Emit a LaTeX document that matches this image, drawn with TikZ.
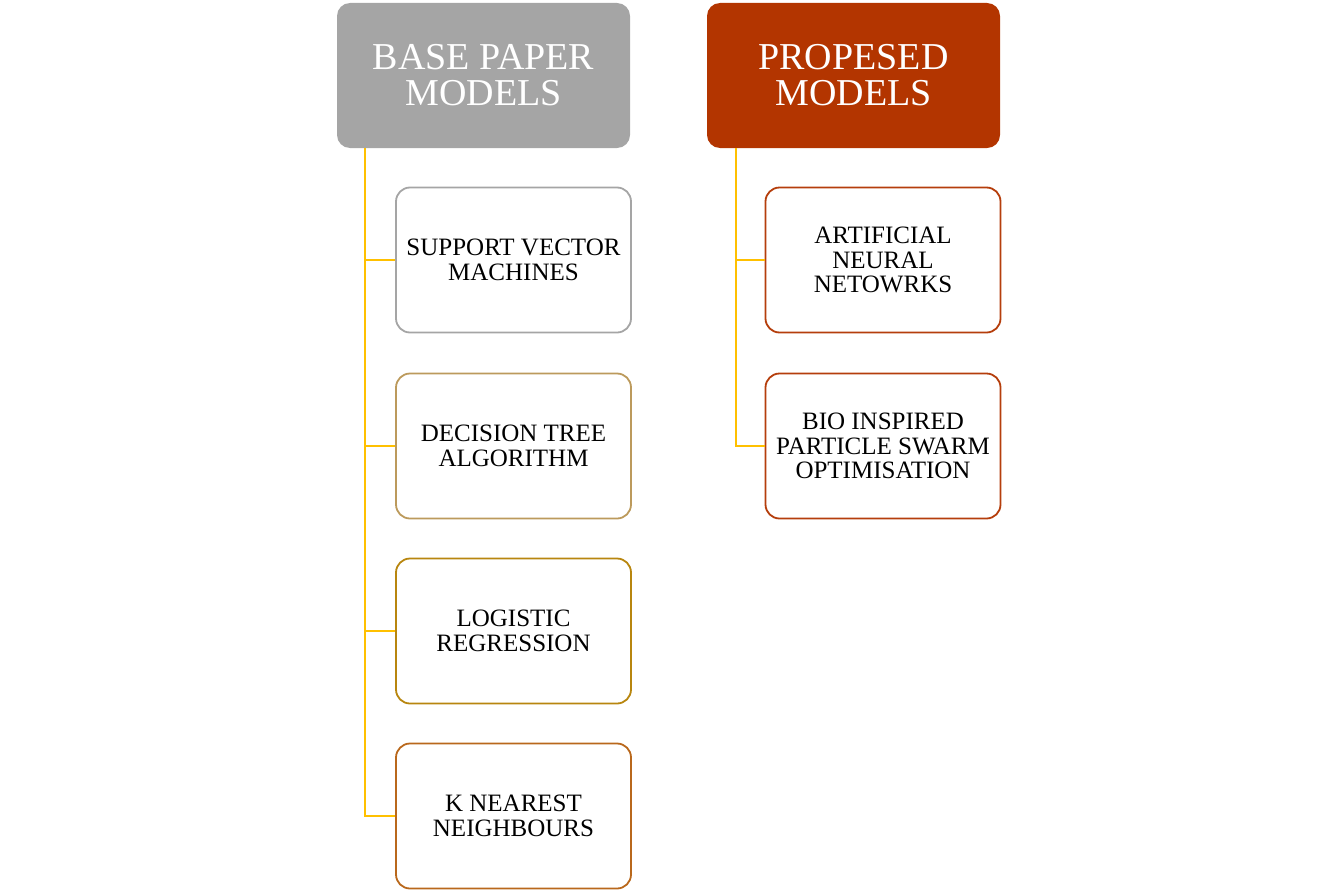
\documentclass[tikz,border=0pt]{standalone}
\usepackage{fontspec}
\setmainfont{Liberation Serif}
\definecolor{hdgray}{HTML}{A5A5A5}
\definecolor{hdred}{HTML}{B33500}
\definecolor{cDT}{HTML}{BC9A5C}
\definecolor{cLR}{HTML}{B8860F}
\definecolor{cKN}{HTML}{B9681C}
\definecolor{cR}{HTML}{B53E0C}
\definecolor{branchgold}{HTML}{FFC000}
\begin{document}
\begin{tikzpicture}[x=1pt,y=-1pt,
  header/.style={rounded corners=13pt, minimum width=293pt, minimum height=145pt, inner sep=0pt,
    text=white, font=\fontsize{38}{36}\selectfont, align=center},
  child/.style={draw, line width=1.8pt, fill=white, rounded corners=14pt, minimum width=235pt, minimum height=145pt,
    inner sep=0pt, font=\fontsize{25}{24.5}\selectfont, align=center},
  conn/.style={draw=branchgold, line width=2pt}]
\useasboundingbox (0,0) rectangle (1337,891);
\node[header, fill=hdgray] (h1) at (483.5,75.5) {BASE PAPER\\MODELS};
\node[header, fill=hdred] (h2) at (853.5,75.5) {PROPESED\\MODELS};
\node[child, draw=hdgray] (c1) at (513.5,260) {SUPPORT VECTOR\\MACHINES};
\node[child, draw=cDT] (c2) at (513.5,446) {DECISION TREE\\ALGORITHM};
\node[child, draw=cLR] (c3) at (513.5,631) {LOGISTIC\\REGRESSION};
\node[child, draw=cKN] (c4) at (513.5,816) {K NEAREST\\NEIGHBOURS};
\node[child, draw=cR] (r1) at (883,260) {ARTIFICIAL\\NEURAL\\NETOWRKS};
\node[child, draw=cR] (r2) at (883,446) {BIO INSPIRED\\PARTICLE SWARM\\OPTIMISATION};
\foreach \c in {c1,c2,c3,c4}
  \path[conn] (h1.south west) ++(28,0) |- (\c.west);
\foreach \c in {r1,r2}
  \path[conn] (h2.south west) ++(29,0) |- (\c.west);
\end{tikzpicture}
\end{document}
